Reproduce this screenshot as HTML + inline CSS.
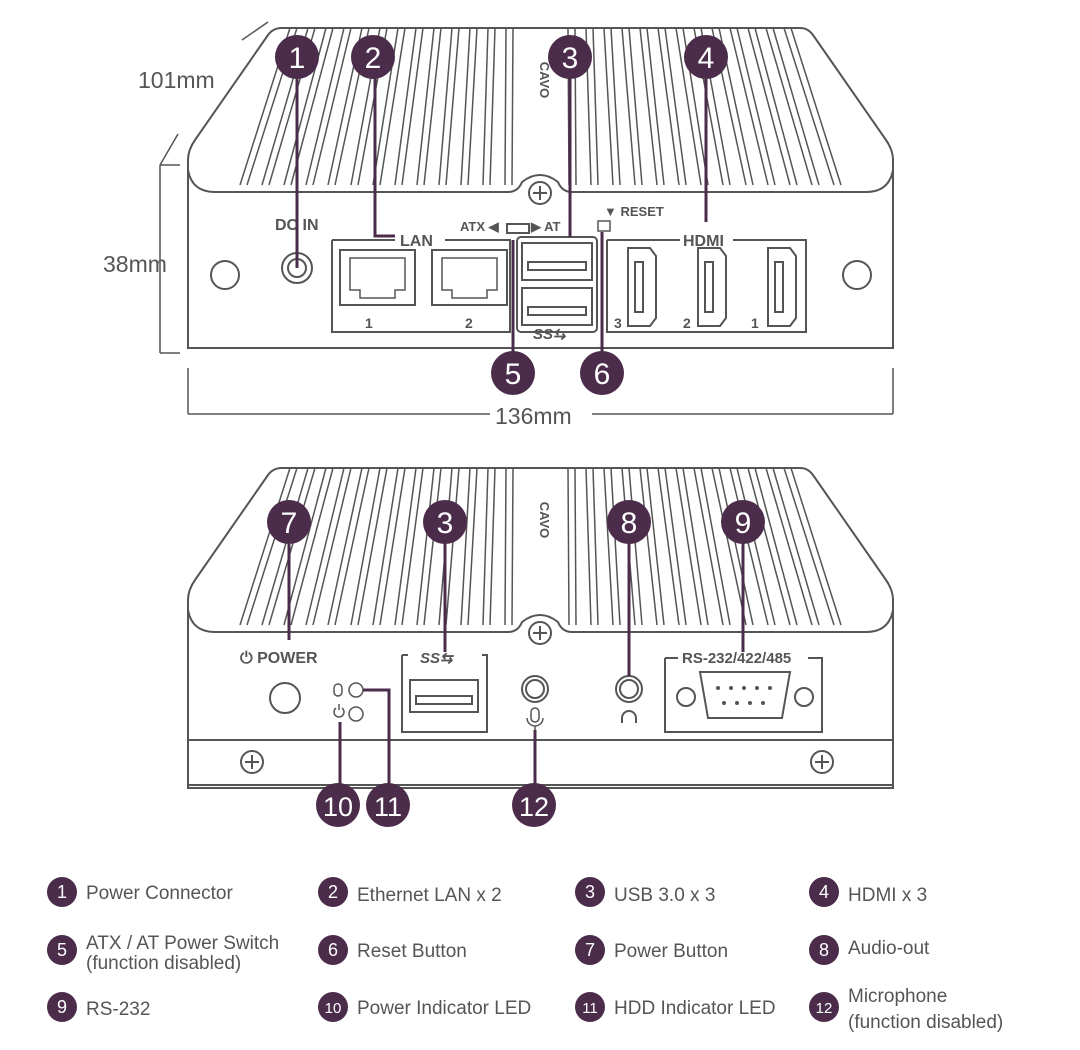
<!DOCTYPE html>
<html><head><meta charset="utf-8"><style>
html,body{margin:0;padding:0;background:#fff;}
svg{display:block;font-family:"Liberation Sans",sans-serif;}
.lg{font-size:19px;fill:#555;}
.lbl{font-size:14px;font-weight:bold;fill:#555;}
.dim{font-size:23px;fill:#555;}
.cn{fill:#fff;font-size:30px;text-anchor:middle;}
.cs{fill:#fff;font-size:18px;text-anchor:middle;}
</style></head><body>
<svg width="1080" height="1050" viewBox="0 0 1080 1050" xmlns="http://www.w3.org/2000/svg">
<defs>
<g id="dev" fill="none" stroke="#555" stroke-width="2">
<path d="M188,348 L188,160 Q188,150 195,140 L268,35 Q273,28 282,28 L800,28 Q808,28 813,35 L886,140 Q893,150 893,160 L893,348 Z" fill="#fff"/>
<path d="M188,170 Q192,192 215,192 L508,192 Q518,192 522,182 Q540,168 558,182 Q562,192 572,192 L866,192 Q889,192 893,170"/>
<path stroke-width="1.5" d="M290,28L240,185M297,28L247,185M308,28L262,185M315,28L269,185M326,28L284,185M333,28L291,185M344,28L306,185M351,28L313,185M362,28L328,185M369,28L335,185M380,28L351,185M387,28L358,185M398,28L373,185M405,28L380,185M416,28L395,185M423,28L402,185M434,28L417,185M441,28L424,185M452,28L439,185M459,28L446,185M470,28L461,185M477,28L468,185M488,28L483,185M495,28L490,185M506,28L505,185M513,28L512,185
M791,28L841,185M784,28L834,185M773,28L819,185M766,28L812,185M755,28L797,185M748,28L790,185M737,28L775,185M730,28L768,185M719,28L753,185M712,28L746,185M701,28L730,185M694,28L723,185M683,28L708,185M676,28L701,185M665,28L686,185M658,28L679,185M647,28L664,185M640,28L657,185M629,28L642,185M622,28L635,185M611,28L620,185M604,28L613,185M593,28L598,185M586,28L591,185M575,28L576,185M568,28L569,185"/>
<circle cx="540" cy="193" r="11"/><path d="M540,186v14M533,193h14"/>
<text x="540" y="80" transform="rotate(90 540 80)" font-size="13" font-weight="bold" fill="#555" stroke="none" text-anchor="middle">CAVO</text>
</g>
</defs>

<!-- TOP DEVICE -->
<use href="#dev"/>
<g fill="none" stroke="#555" stroke-width="2">
<circle cx="225" cy="275" r="14"/><circle cx="857" cy="275" r="14"/>
<circle cx="297" cy="268" r="15"/><circle cx="297" cy="268" r="9"/>
<path d="M332,240 H395 M445,240 H510 V332 H332 V240" />
<rect x="340" y="250" width="75" height="55"/><path d="M350,258h55v32h-10v8h-35v-8h-10z" stroke-width="1.5"/>
<rect x="432" y="250" width="75" height="55"/><path d="M442,258h55v32h-10v8h-35v-8h-10z" stroke-width="1.5"/>
<rect x="517" y="237" width="80" height="95" rx="4"/>
<rect x="522" y="243" width="70" height="37"/><rect x="528" y="262" width="58" height="8"/>
<rect x="522" y="288" width="70" height="37"/><rect x="528" y="307" width="58" height="8"/>
<path d="M607,240 H680 M733,240 H806 V332 H607 V240"/>
<path d="M628,248h22l6,8v62l-6,8h-22z"/><rect x="635" y="262" width="8" height="50"/>
<path d="M698,248h22l6,8v62l-6,8h-22z"/><rect x="705" y="262" width="8" height="50"/>
<path d="M768,248h22l6,8v62l-6,8h-22z"/><rect x="775" y="262" width="8" height="50"/>
<rect x="507" y="224" width="22" height="9"/>
<rect x="598" y="221" width="12" height="10" stroke-width="1.5"/>
</g>
<g class="lbl">
<text x="275" y="230" font-size="16">DC IN</text>
<text x="400" y="246" font-size="16">LAN</text>
<text x="460" y="231" font-size="13">ATX ◀</text>
<text x="531" y="231" font-size="13">▶ AT</text>
<text x="604" y="216" font-size="13">▼ RESET</text>
<text x="683" y="246" font-size="16">HDMI</text>
<text x="365" y="328">1</text><text x="465" y="328">2</text>
<text x="614" y="328">3</text><text x="683" y="328">2</text><text x="751" y="328">1</text>
<text x="533" y="339" font-style="italic" font-size="15">SS⇆</text>
</g>
<!-- dimensions -->
<g stroke="#555" stroke-width="1.5" fill="none">
<path d="M242,40 L268,22"/>
<path d="M160,165 V353 M160,165 L178,134 M160,165 H180 M160,353 H180"/>
<path d="M188,368 V414 M893,368 V414 M188,414 H490 M592,414 H893"/>
</g>
<text class="dim" x="138" y="88">101mm</text>
<text class="dim" x="103" y="272">38mm</text>
<text class="dim" x="495" y="424">136mm</text>

<!-- BOTTOM DEVICE -->
<use href="#dev" transform="translate(0,440)"/>
<g fill="none" stroke="#555" stroke-width="2">
<rect x="188" y="740" width="705" height="45" fill="#fff"/>
<circle cx="252" cy="762" r="11"/><path d="M252,755v14M245,762h14"/>
<circle cx="822" cy="762" r="11"/><path d="M822,755v14M815,762h14"/>
<circle cx="285" cy="698" r="15"/>
<circle cx="356" cy="690" r="7" stroke-width="1.5"/><circle cx="356" cy="714" r="7" stroke-width="1.5"/>
<rect x="334" y="684" width="8" height="12" rx="4" stroke-width="1.5"/>
<path d="M336,708 a5,5 0 1 0 6,0 M339,704v6" stroke-width="1.5"/>
<path d="M402,655 H408 M482,655 H487 V732 H402 V655"/>
<rect x="410" y="680" width="68" height="32"/><rect x="416" y="696" width="56" height="8"/>
<circle cx="535" cy="689" r="13"/><circle cx="535" cy="689" r="9"/>
<rect x="531" y="708" width="8" height="14" rx="4" stroke-width="1.5"/><path d="M527,718 a8,8 0 0 0 16,0 M535,726v4" stroke-width="1.5"/>
<circle cx="629" cy="689" r="13"/><circle cx="629" cy="689" r="9"/>
<path d="M622,723 v-5 a7,7 0 0 1 14,0 v5" stroke-width="2"/>
<path d="M665,658 H678 M808,658 H822 V732 H665 V658"/>
<path d="M700,672 H790 L782,718 H708 Z" />
<circle cx="686" cy="697" r="9"/><circle cx="804" cy="697" r="9"/>
</g>
<g fill="#555">
<circle cx="718" cy="688" r="2"/><circle cx="731" cy="688" r="2"/><circle cx="744" cy="688" r="2"/><circle cx="757" cy="688" r="2"/><circle cx="770" cy="688" r="2"/>
<circle cx="724" cy="703" r="2"/><circle cx="737" cy="703" r="2"/><circle cx="750" cy="703" r="2"/><circle cx="763" cy="703" r="2"/>
</g>
<g class="lbl">
<text x="240" y="663" font-size="16">⏻ POWER</text>
<text x="420" y="663" font-style="italic" font-size="15">SS⇆</text>
<text x="682" y="663" font-size="15">RS-232/422/485</text>
</g>

<!-- leaders -->
<g stroke="#4b2d4b" stroke-width="3" fill="none">
<path d="M297,70 V268"/>
<path d="M375,70 V236 H395"/>
<path d="M570,70 V237"/>
<path d="M706,70 V222"/>
<path d="M513,360 V240"/>
<path d="M602,360 V232"/>
<path d="M289,530 V640"/>
<path d="M445,530 V652"/>
<path d="M629,530 V676"/>
<path d="M743,530 V652"/>
<path d="M340,722 V800"/>
<path d="M363,690 H389 V800"/>
<path d="M535,730 V800"/>
</g>
<g fill="#4b2d4b">
<circle cx="297" cy="57" r="22"/><circle cx="373" cy="57" r="22"/><circle cx="570" cy="57" r="22"/><circle cx="706" cy="57" r="22"/>
<circle cx="513" cy="373" r="22"/><circle cx="602" cy="373" r="22"/>
<circle cx="289" cy="522" r="22"/><circle cx="445" cy="522" r="22"/><circle cx="629" cy="522" r="22"/><circle cx="743" cy="522" r="22"/>
<circle cx="338" cy="805" r="22"/><circle cx="388" cy="805" r="22"/><circle cx="534" cy="805" r="22"/>
</g>
<g class="cn">
<text x="297" y="68">1</text><text x="373" y="68">2</text><text x="570" y="68">3</text><text x="706" y="68">4</text>
<text x="513" y="384">5</text><text x="602" y="384">6</text>
<text x="289" y="533">7</text><text x="445" y="533">3</text><text x="629" y="533">8</text><text x="743" y="533">9</text>
<text x="338" y="816" font-size="27">10</text><text x="388" y="816" font-size="27">11</text><text x="534" y="816" font-size="27">12</text>
</g>

<!-- legend -->
<g fill="#4b2d4b">
<circle cx="62" cy="892" r="15"/><circle cx="333" cy="892" r="15"/><circle cx="590" cy="892" r="15"/><circle cx="824" cy="892" r="15"/>
<circle cx="62" cy="950" r="15"/><circle cx="333" cy="950" r="15"/><circle cx="590" cy="950" r="15"/><circle cx="824" cy="950" r="15"/>
<circle cx="62" cy="1007" r="15"/><circle cx="333" cy="1007" r="15"/><circle cx="590" cy="1007" r="15"/><circle cx="824" cy="1007" r="15"/>
</g>
<g class="cs">
<text x="62" y="898">1</text><text x="333" y="898">2</text><text x="590" y="898">3</text><text x="824" y="898">4</text>
<text x="62" y="956">5</text><text x="333" y="956">6</text><text x="590" y="956">7</text><text x="824" y="956">8</text>
<text x="62" y="1013">9</text><text x="333" y="1013" font-size="15">10</text><text x="590" y="1013" font-size="15">11</text><text x="824" y="1013" font-size="15">12</text>
</g>
<g class="lg">
<text x="86" y="899">Power Connector</text>
<text x="357" y="901">Ethernet LAN x 2</text>
<text x="614" y="901">USB 3.0 x 3</text>
<text x="848" y="901">HDMI x 3</text>
<text x="86" y="949">ATX / AT Power Switch</text>
<text x="86" y="969">(function disabled)</text>
<text x="357" y="957">Reset Button</text>
<text x="614" y="957">Power Button</text>
<text x="848" y="954">Audio-out</text>
<text x="86" y="1015">RS-232</text>
<text x="357" y="1014">Power Indicator LED</text>
<text x="614" y="1014">HDD Indicator LED</text>
<text x="848" y="1002">Microphone</text>
<text x="848" y="1028">(function disabled)</text>
</g>
</svg>
</body></html>
